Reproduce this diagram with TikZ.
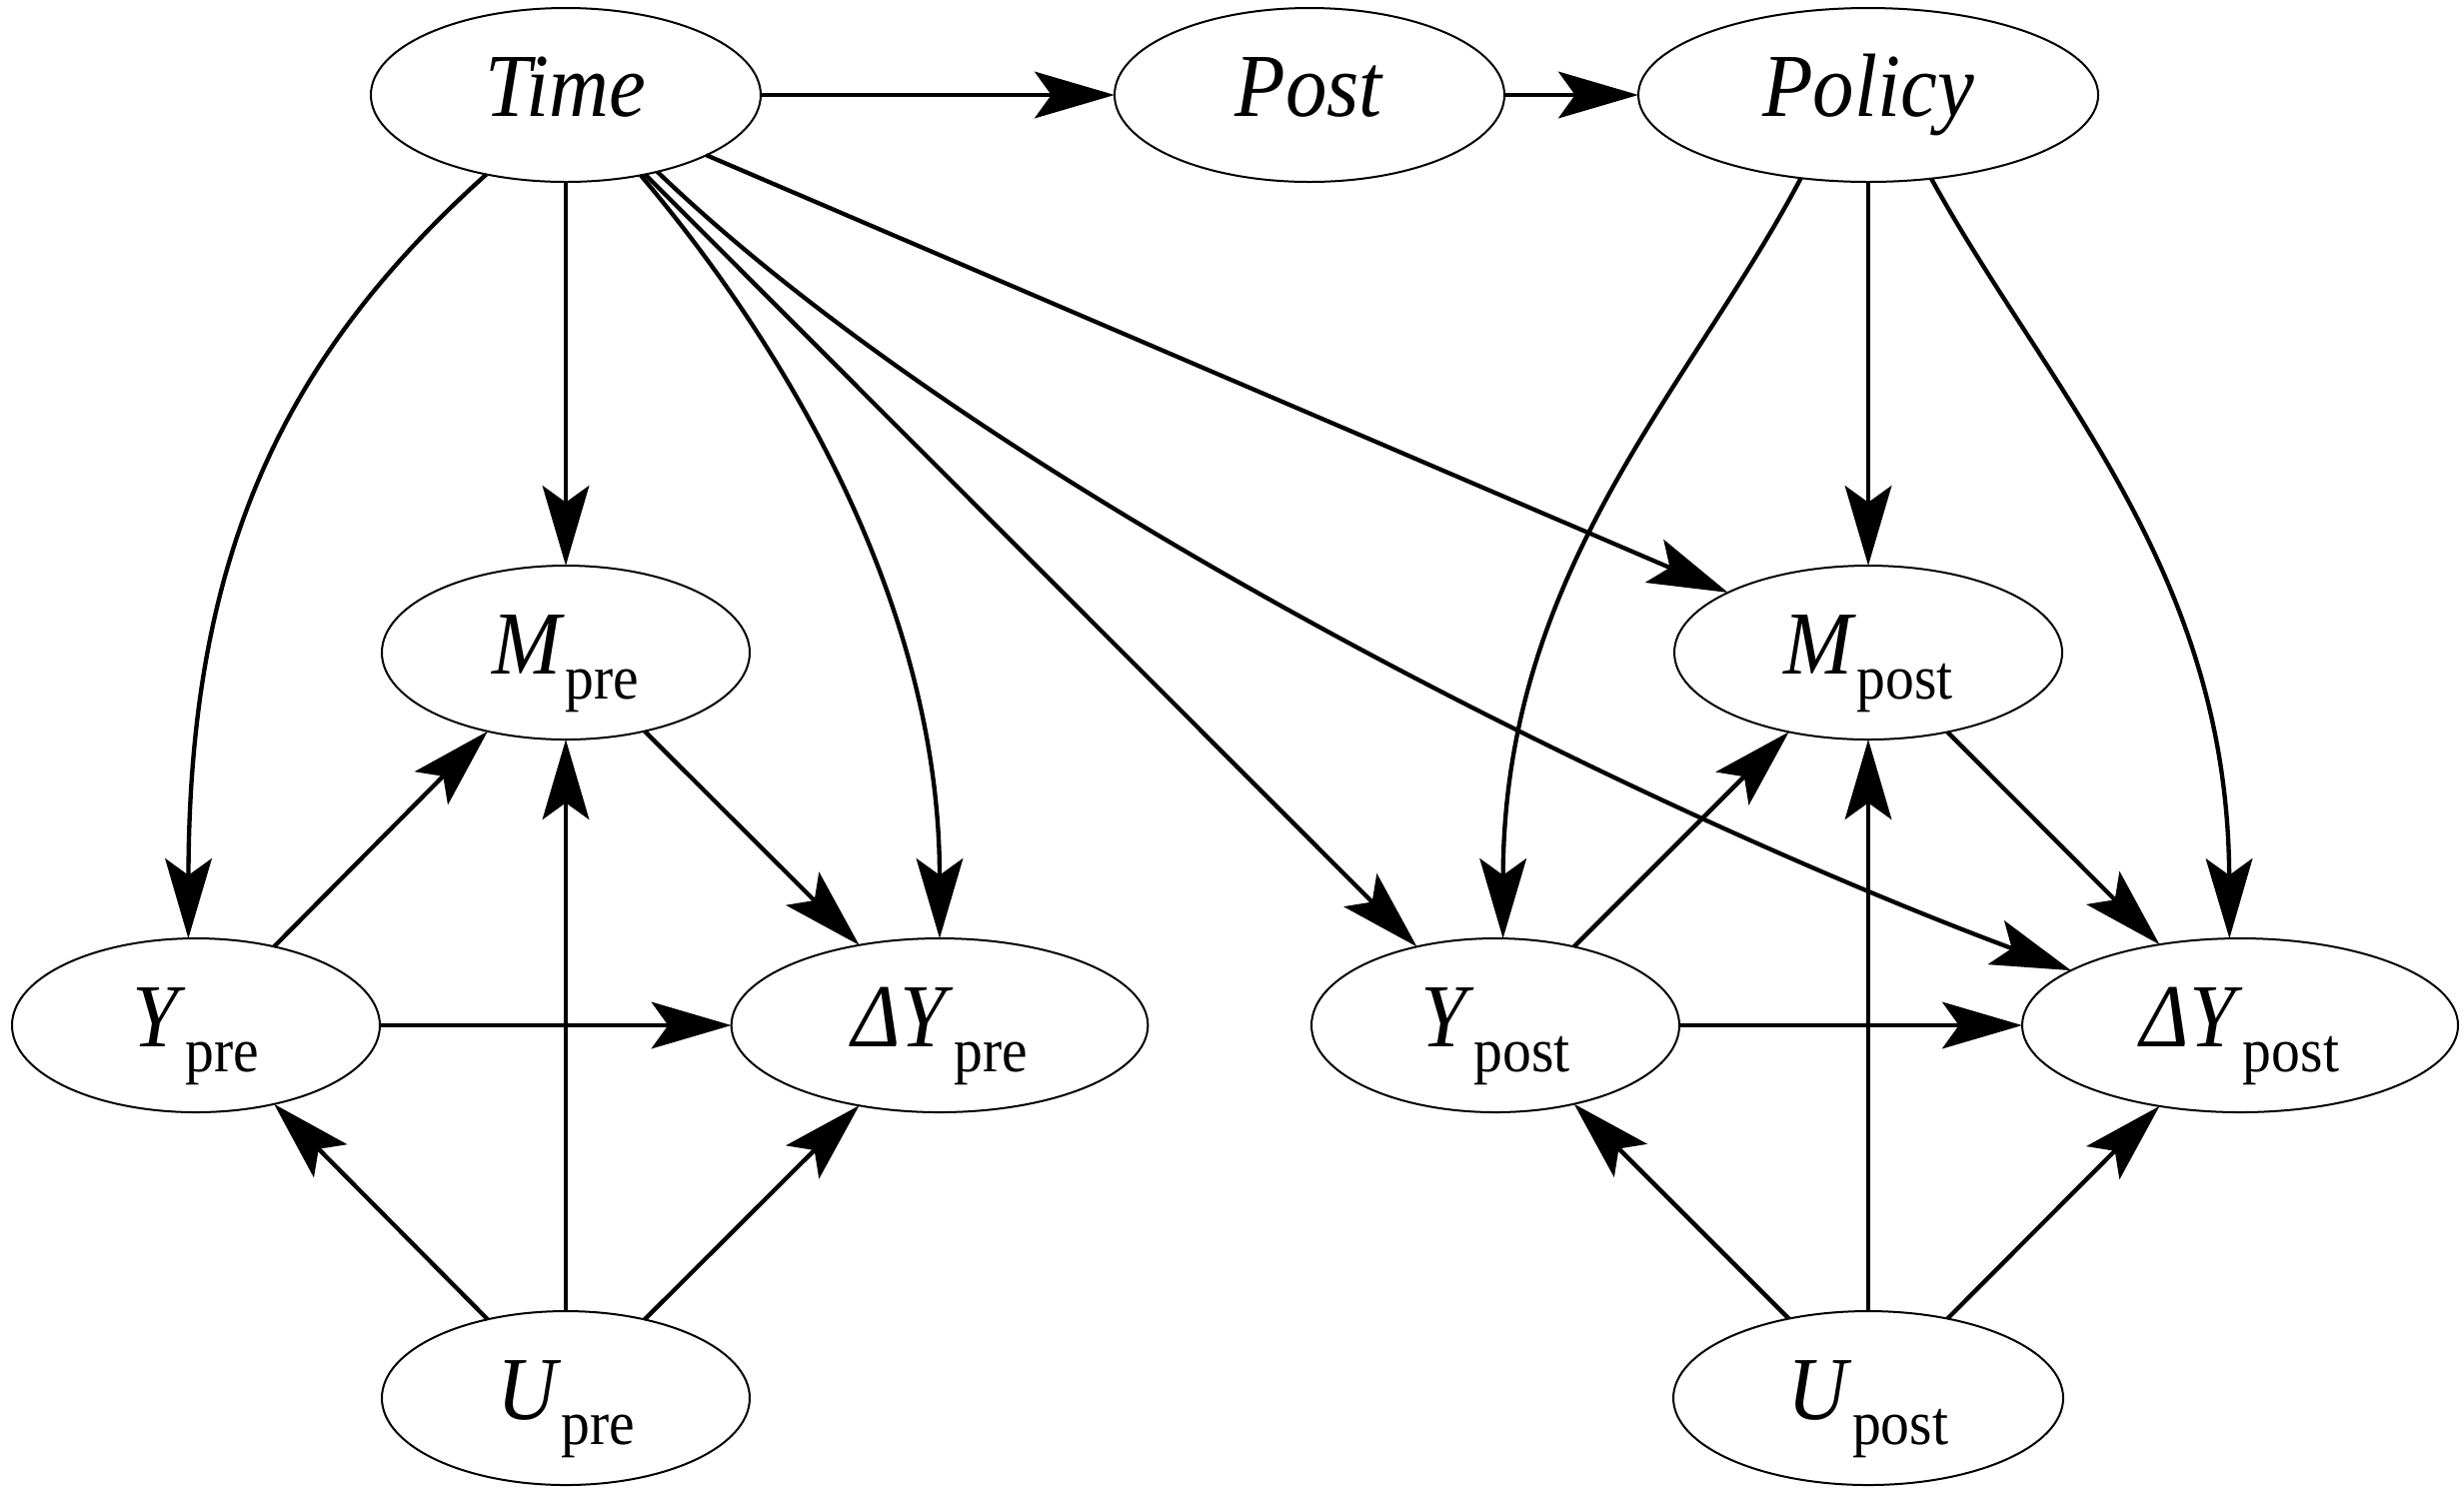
\documentclass[tikz,border=0pt]{standalone}
\usepackage{fontspec}
\setmainfont[FakeStretch=0.92]{Liberation Serif}
\usetikzlibrary{shapes.geometric,arrows.meta}
\newcommand{\lab}[2]{\textit{#1}\raisebox{-7.5pt}{\fontsize{18.8}{20}\selectfont\upshape #2}}
\begin{document}
\begin{tikzpicture}[x=0.3pt,y=-0.3pt,
  nd/.style={ellipse,draw=black,line width=0.6pt,inner sep=0pt,outer sep=0pt,
    minimum height=52.2pt,text height=21pt,text depth=8.4pt,
    font=\fontsize{27}{32}\selectfont},
  ar/.style={line width=1.3pt,-{Stealth[length=24pt,width=14pt,inset=5pt]}}]
\useasboundingbox (0,0) rectangle (2465,1488);
% nodes
\node[nd, minimum width=117pt]   (Time)   at (566,95)    {\textit{Time}};
\node[nd, minimum width=117pt]   (Post)   at (1310,95)   {\textit{Post}};
\node[nd, minimum width=138pt]   (Policy) at (1869,95)   {\textit{Policy}};
\node[nd, minimum width=110.4pt] (Mpre)   at (566,653)   {\lab{M}{pre}};
\node[nd, minimum width=116.4pt] (Mpost)  at (1869,653)  {\lab{M}{post}};
\node[nd, minimum width=110.4pt] (Ypre)   at (196,1026)  {\lab{Y}{pre}};
\node[nd, minimum width=125pt]   (DYpre)  at (940,1026)  {\lab{ΔY}{pre}};
\node[nd, minimum width=110.4pt] (Ypost)  at (1496,1026) {\lab{Y}{post}};
\node[nd, minimum width=130.8pt] (DYpost) at (2241,1026) {\lab{ΔY}{post}};
\node[nd, minimum width=110.4pt] (Upre)   at (566,1399)  {\lab{U}{pre}};
\node[nd, minimum width=117pt]   (Upost)  at (1869,1399) {\lab{U}{post}};
% top row
\draw[ar] (Time) -- (Post);
\draw[ar] (Post) -- (Policy);
% from Time
\draw[ar] (Time.225) .. controls (280,360) and (189,560) .. (Ypre.95);
\draw[ar] (Time) -- (Mpre);
\draw[ar] (Time.-47) .. controls (780,340) and (940,600) .. (DYpre.north);
\draw[ar] (Time) -- (Ypost);
\draw[ar] (Time.-40) .. controls (1000,500) and (1669,821) .. (DYpost.162);
\draw[ar] (Time) -- (Mpost);
% from Policy
\draw[ar] (Policy.231) .. controls (1690,390) and (1504,570) .. (Ypost.85);
\draw[ar] (Policy) -- (Mpost);
\draw[ar] (Policy.-53) .. controls (2048,390) and (2229,570) .. (DYpost.97);
% pre group
\draw[ar] (Mpre) -- (DYpre);
\draw[ar] (Ypre) -- (Mpre);
\draw[ar] (Ypre) -- (DYpre);
\draw[ar] (Upre) -- (Ypre);
\draw[ar] (Upre) -- (Mpre);
\draw[ar] (Upre) -- (DYpre);
% post group
\draw[ar] (Mpost) -- (DYpost);
\draw[ar] (Ypost) -- (Mpost);
\draw[ar] (Ypost) -- (DYpost);
\draw[ar] (Upost) -- (Ypost);
\draw[ar] (Upost) -- (Mpost);
\draw[ar] (Upost) -- (DYpost);
\end{tikzpicture}
\end{document}
